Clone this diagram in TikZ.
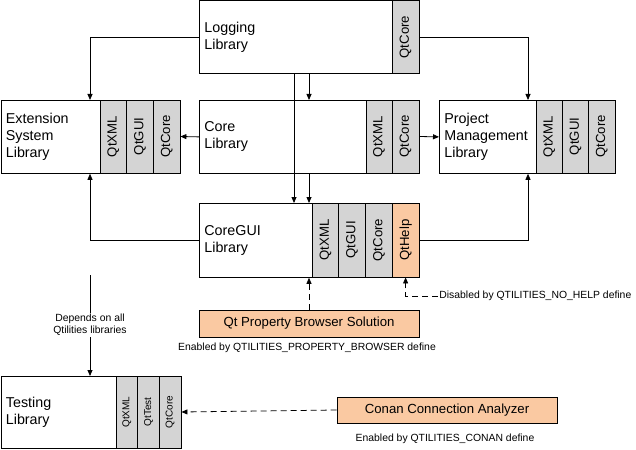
\documentclass[tikz,border=0pt]{standalone}
\usepackage{fontspec}
\setmainfont{Liberation Sans}
\usetikzlibrary{arrows.meta}
\definecolor{qtgray}{RGB}{212,212,212}
\definecolor{qtorange}{RGB}{250,201,162}
\newcommand{\bigtext}{\fontsize{14.3}{17}\selectfont}
\newcommand{\midtext}{\fontsize{13.2}{15}\selectfont}
\newcommand{\striptext}{\fontsize{10}{12}\selectfont}
\newcommand{\smalltext}{\fontsize{10.4}{12}\selectfont}

\begin{document}
\begin{tikzpicture}[x=1pt, y=-1pt, line width=0.8pt,
  >={Triangle[length=6pt,width=5pt]},
  lib/.style={draw, anchor=north west, minimum height=73pt, inner sep=5pt, align=left, font=\bigtext},
  qt/.style={draw, fill=qtgray, rotate=90, minimum width=73pt, minimum height=26.6pt, inner sep=0pt, font=\midtext},
  opt/.style={draw, fill=qtorange, minimum width=220pt, inner sep=0pt, font=\midtext},
  note/.style={font=\smalltext, inner sep=1pt},
  dashline/.style={dash pattern=on 6pt off 4pt}]
\useasboundingbox (0,0) rectangle (636,449);

%%%%%%%%%%%%%%%%%%Logging Library%%%%%%%%%%%%%%%%%%
\node[lib, text width=183pt] (log) at (199,0.5) {Logging\\Library};
\node[qt, minimum height=27pt] (log-core) at (405.5,37) {QtCore};

%%%%%%%%%%%%%%%%%%Core Library%%%%%%%%%%%%%%%%%%
\node[lib, text width=157pt] (core) at (199,100) {Core\\Library};
\node[qt, minimum height=26pt] (core-xml) at (379,136.5) {QtXML};
\node[qt, minimum height=27pt] (core-core) at (405.5,136.5) {QtCore};

%%%%%%%%%%%%%%%%%%Extension System Library%%%%%%%%%%%%%%%%%%
\node[lib, text width=89.5pt] (ext) at (0.5,100) {Extension\\System\\Library};
\node[qt] (ext-xml) at (113.3,136.5) {QtXML};
\node[qt] (ext-gui) at (140,136.5) {QtGUI};
\node[qt] (ext-core) at (166.7,136.5) {QtCore};

%%%%%%%%%%%%%%%%%%Project Management Library%%%%%%%%%%%%%%%%%%
\node[lib, text width=87pt] (pm) at (439,100) {Project\\Management\\Library};
\node[qt, minimum height=26.3pt] (pm-xml) at (549.2,136.5) {QtXML};
\node[qt, minimum height=26.3pt] (pm-gui) at (575.5,136.5) {QtGUI};
\node[qt, minimum height=26.3pt] (pm-core) at (601.8,136.5) {QtCore};

%%%%%%%%%%%%%%%%%%CoreGUI Library%%%%%%%%%%%%%%%%%%
\node[lib, text width=103pt, minimum height=74pt] (gui) at (199,203) {CoreGUI\\Library};
\node[qt, minimum width=74pt, minimum height=26.75pt] (gui-xml) at (325.4,240) {QtXML};
\node[qt, minimum width=74pt, minimum height=26.75pt] (gui-gui) at (352.1,240) {QtGUI};
\node[qt, minimum width=74pt, minimum height=26.75pt] (gui-core) at (378.9,240) {QtCore};
\node[qt, minimum width=74pt, minimum height=26.75pt, fill=qtorange] (gui-help) at (405.6,240) {QtHelp};

%%%%%%%%%%%%%%%%%%Testing Library%%%%%%%%%%%%%%%%%%
\node[lib, text width=105.5pt, minimum height=72pt] (test) at (0.5,376) {Testing\\Library};
\node[qt, minimum width=72pt, minimum height=21.7pt, font=\striptext] (test-xml) at (126.8,412) {QtXML};
\node[qt, minimum width=72pt, minimum height=21.7pt, font=\striptext] (test-test) at (148.5,412) {QtTest};
\node[qt, minimum width=72pt, minimum height=21.7pt, font=\striptext] (test-core) at (170.2,412) {QtCore};

%%%%%%%%%%%%%%%%%%Optional Parts%%%%%%%%%%%%%%%%%%
\node[opt, minimum height=27pt] (browser) at (309,323.5) {Qt Property Browser Solution};
\node[note] (browser-note) at (307,348) {Enabled by QTILITIES\_PROPERTY\_BROWSER define};
\node[opt, minimum height=26pt] (conan) at (447,410) {Conan Connection Analyzer};
\node[note] (conan-note) at (445,439) {Enabled by QTILITIES\_CONAN define};
\node[note, anchor=west] (help-note) at (438,296) {Disabled by QTILITIES\_NO\_HELP define};

%%%%%%%%%%%%%%%%%%Lanes For The Connectors%%%%%%%%%%%%%%%%%%
\coordinate (laneL) at (90,0);
\coordinate (laneA) at (294,0);
\coordinate (laneB) at (309,0);
\coordinate (laneR) at (528,0);
\coordinate (dep-top) at (90,275);

%%%%%%%%%%%%%%%%%%Draw Dependencies%%%%%%%%%%%%%%%%%%
\draw[->] (log.west) -| (ext.north -| laneL);
\draw[->] (log-core.south) -| (pm.north -| laneR);
\draw[->] (log.south -| laneB) -- (core.north -| laneB);
\draw[->] (log.south -| laneA) -- (gui.north -| laneA);
\draw[->] (core.south -| laneB) -- (gui.north -| laneB);
\draw[->] (core.west) -- (ext-core.south);
\draw[->] (core-core.south) -- (pm.west);
\draw[->] (gui.west) -| (ext.south -| laneL);
\draw[->] (gui-help.south) -| (pm.south -| laneR);
\draw[->] (dep-top) -- (test.north -| laneL);
\node[note, fill=white, align=center] (dep-note) at (90,325) {Depends on all\\Qtilities libraries};

%%%%%%%%%%%%%%%%%%Draw Optional Dependencies%%%%%%%%%%%%%%%%%%
\draw[->, dashline] (browser.north -| laneB) -- (gui.south -| laneB);
\draw[->, dashline] (help-note.west) -| (gui-help.west);
\draw[->, dashline] (conan.west) -- (test-core.south);

\end{tikzpicture}
\end{document}
